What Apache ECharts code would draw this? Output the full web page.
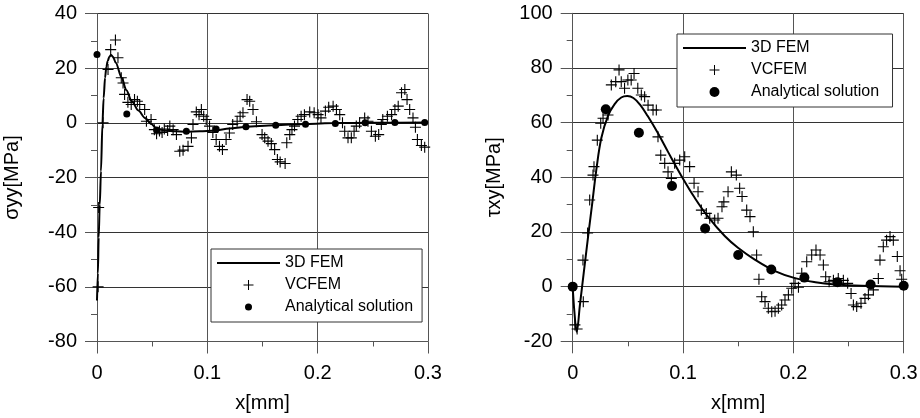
<!DOCTYPE html>
<html><head><meta charset="utf-8">
<script src="https://cdn.jsdelivr.net/npm/echarts@6/dist/echarts.min.js"></script>
<style>html,body{margin:0;padding:0;background:#fff}#c{width:920px;height:418px}</style>
</head><body><div id="c"></div>
<script>
// ---- data ----
const xTicks = [0, 0.1, 0.2, 0.3];
const syyTicks = [-80, -60, -40, -20, 0, 20, 40];
const txyTicks = [-20, 0, 20, 40, 60, 80, 100];
const seriesNames = ['3D FEM', 'VCFEM', 'Analytical solution'];
const axisNames = ['x[mm]', 'σyy[MPa]', 'τxy[MPa]'];

const syyFEM = [[0,-65],[0.0008,-55],[0.0015,-42],[0.0025,-30],[0.0036,-17.7],[0.0049,-0.6],[0.006,9],[0.0073,16.5],[0.0085,20.5],[0.0097,22.6],[0.0112,24.2],[0.0127,24.8],[0.0145,24.2],[0.017,22],[0.0224,16.5],[0.0265,12],[0.0315,7.9],[0.0375,4.5],[0.0435,1.8],[0.049,-0.3],[0.054,-2.1],[0.062,-2.9],[0.0707,-3.1],[0.081,-3.3],[0.093,-3.1],[0.107,-2.8],[0.12,-2.1],[0.134,-1.5],[0.161,-0.9],[0.19,-0.4],[0.215,-0.1],[0.25,0],[0.3,0.1]];

const syyVCFEM = [[0.001,-60],[0.0015,-31],[0.0055,0],[0.010,19.5],[0.0124,26.8],[0.0167,30.3],[0.019,23.8],[0.022,16.5],[0.0236,14.6],[0.025,10.4],[0.028,7.5],[0.031,6.7],[0.034,8.5],[0.0366,7.9],[0.0387,6.7],[0.0432,4.9],[0.0448,0.6],[0.049,1.2],[0.052,-2.5],[0.054,-4],[0.0566,-3],[0.059,-3.5],[0.061,-2.3],[0.064,-2.8],[0.066,-1.2],[0.069,-2.5],[0.072,-4.3],[0.075,-10.4],[0.078,-10],[0.0825,-8.6],[0.0856,-5.5],[0.087,-0.6],[0.090,4],[0.0925,3],[0.0946,4.9],[0.0967,2.4],[0.099,1.2],[0.102,-1.2],[0.105,-3.5],[0.108,-6.1],[0.111,-8.6],[0.1137,-9.8],[0.117,-6.1],[0.12,-3.7],[0.123,-0.6],[0.127,0.6],[0.1297,2.4],[0.1323,3.7],[0.136,8.5],[0.1384,7.9],[0.1414,4.9],[0.1445,0.4],[0.1496,-4.3],[0.152,-5.5],[0.155,-6.7],[0.158,-7.6],[0.161,-9.8],[0.1635,-13.4],[0.166,-14.3],[0.1705,-14.9],[0.172,-7.3],[0.1747,-4.3],[0.1767,-2.5],[0.179,-1.2],[0.182,1.2],[0.185,2.4],[0.188,3],[0.1928,4],[0.1968,3.7],[0.2004,3],[0.203,1.8],[0.207,4.3],[0.21,5.7],[0.214,6.1],[0.217,4.9],[0.22,3],[0.2225,0],[0.2245,-3.1],[0.2275,-5.5],[0.2305,-5.5],[0.233,-3.1],[0.235,-1.2],[0.238,0],[0.2426,1.8],[0.2456,0.6],[0.2487,-3.1],[0.2523,-4.9],[0.2553,-4.3],[0.2577,-0.6],[0.259,1.2],[0.2632,2.4],[0.267,3],[0.27,4.9],[0.273,6.1],[0.276,11],[0.279,12.2],[0.281,8.5],[0.2834,4.9],[0.2864,1.8],[0.2886,-1.6],[0.2904,-6.1],[0.294,-8.3],[0.297,-8.9]];

const syyAnalytical = [[0,25],[0.027,3.2],[0.054,-2.6],[0.081,-3.1],[0.108,-2.3],[0.135,-1.4],[0.162,-0.9],[0.189,-0.5],[0.216,-0.2],[0.243,0],[0.27,0.1],[0.297,0.1]];

const txyFEM = [[0,0],[0.0015,-9],[0.0036,-16.5],[0.0066,-6.5],[0.01,5],[0.014,18.5],[0.018,31.5],[0.0214,42.7],[0.026,54.5],[0.032,62.5],[0.038,66.8],[0.044,69.2],[0.0495,69.7],[0.055,69],[0.061,66.6],[0.068,62.4],[0.0773,56.1],[0.0864,49.3],[0.0984,40.6],[0.1106,32.5],[0.1226,25.6],[0.1378,18.5],[0.1498,14.2],[0.165,9.9],[0.1834,5.7],[0.2015,3.1],[0.22,1.6],[0.238,0.8],[0.262,0.3],[0.3,0]];

const txyVCFEM = [[0.002,-14],[0.004,-15.5],[0.0096,-5.5],[0.0093,9.7],[0.0135,19.6],[0.0154,31.7],[0.0184,40.8],[0.0193,43.9],[0.0223,53.6],[0.0254,59.8],[0.0275,61.6],[0.032,62.8],[0.035,73.8],[0.039,75],[0.042,79.3],[0.044,75],[0.047,72.6],[0.05,75.6],[0.053,75.6],[0.0556,78],[0.059,72.6],[0.0622,70.1],[0.0652,69.5],[0.0683,66.4],[0.0728,64.6],[0.0758,64.6],[0.0773,54.8],[0.0798,48.1],[0.0834,45.1],[0.0864,42],[0.0894,39.6],[0.0924,45.1],[0.097,46.3],[0.1015,47.5],[0.106,43.9],[0.11,37.8],[0.1136,34.7],[0.1166,28],[0.1211,26.8],[0.1242,25],[0.1287,24.4],[0.1317,25],[0.1353,29.2],[0.137,31],[0.1408,34.7],[0.1438,42],[0.1483,40.8],[0.1513,36],[0.1535,33],[0.1577,28],[0.1607,25.6],[0.1637,20.1],[0.1667,11.6],[0.1688,2.7],[0.1713,-3.7],[0.1743,-5.5],[0.1773,-7.9],[0.1804,-9.2],[0.1834,-9],[0.1864,-7.9],[0.1894,-6.7],[0.1924,-4.9],[0.1955,-3],[0.1985,-0.6],[0.2015,1.2],[0.2046,-0.2],[0.2076,4.9],[0.2121,9.1],[0.2166,11.6],[0.2205,13.4],[0.2242,11.6],[0.2272,7.9],[0.2293,3.6],[0.2324,1.8],[0.2363,2.3],[0.2407,3],[0.2453,2.3],[0.2492,1.2],[0.2523,-2.5],[0.2544,-6.7],[0.2574,-7.3],[0.2613,-6.1],[0.2649,-4.3],[0.268,-3],[0.2725,-1.2],[0.277,3],[0.2785,9.7],[0.2815,14.6],[0.2845,17],[0.2876,18.3],[0.2906,17],[0.2942,11],[0.2967,5.8],[0.2982,2.7]];

const txyAnalytical = [[0,0],[0.03,64.9],[0.06,56.3],[0.09,36.8],[0.12,21.3],[0.15,11.6],[0.18,6.3],[0.21,3.3],[0.24,1.6],[0.27,0.8],[0.30,0.3]];

// ---- styling ----
const FONT = '"Liberation Sans", Arial, sans-serif';
const PLUS = 'path://M0,4.5H10V5.5H0Z M4.5,0H5.5V10H4.5Z';
const LINE_ICON = 'path://M0,0L0,0M63,10L63,10M0,4H63V6H0Z';
const SMALL_DOT_ICON = 'path://M0,0L0,0M10,10L10,10M8.5,5A3.5,3.5,0,1,1,1.5,5A3.5,3.5,0,1,1,8.5,5Z';

function xAxisFor(gi) {
  return {
    type: 'value', gridIndex: gi,
    min: xTicks[0], max: xTicks[xTicks.length - 1], interval: xTicks[1] - xTicks[0],
    name: axisNames[0], nameLocation: 'middle', nameGap: 52, nameMoveOverlap: false,
    nameTextStyle: { fontFamily: FONT, fontSize: 20, color: '#000' },
    axisLine: { show: true, onZero: false, lineStyle: { color: '#555', width: 1 } },
    axisTick: { show: true, length: 12, lineStyle: { color: '#555' } },
    minorTick: { show: true, splitNumber: 2, length: 5, lineStyle: { color: '#555' } },
    splitLine: { show: true, lineStyle: { color: '#555', width: 1 } },
    axisLabel: { fontFamily: FONT, fontSize: 20, color: '#000', margin: 22, formatter: v => String(+v.toFixed(2)) }
  };
}
function yAxisFor(gi, ticks, name, gap) {
  return {
    type: 'value', gridIndex: gi,
    min: ticks[0], max: ticks[ticks.length - 1], interval: ticks[1] - ticks[0],
    name: name, nameLocation: 'middle', nameGap: gap, nameMoveOverlap: false,
    nameTextStyle: { fontFamily: FONT, fontSize: 20, color: '#000' },
    axisLine: { show: true, onZero: false, lineStyle: { color: '#555', width: 1 } },
    axisTick: { show: true, length: 12, lineStyle: { color: '#555' } },
    minorTick: { show: true, splitNumber: 2, length: 6, lineStyle: { color: '#555' } },
    splitLine: { show: true, lineStyle: { color: '#333', width: 1 } },
    axisLabel: { fontFamily: FONT, fontSize: 20, color: '#000', margin: 20 }
  };
}
function legendFor(left, top, ids, dotIcon) {
  return {
    orient: 'vertical', left: left, top: top,
    padding: [6, 9, 7, 6], itemGap: 6, itemWidth: 63, itemHeight: 10,
    backgroundColor: '#fff', borderColor: '#333', borderWidth: 1,
    textStyle: { fontFamily: FONT, fontSize: 16, color: '#000', lineHeight: 16 },
    itemStyle: { opacity: 1 },
    data: [
      { name: ids[0], icon: LINE_ICON },
      { name: ids[1], icon: PLUS },
      { name: ids[2], icon: dotIcon }
    ],
    selectedMode: false
  };
}
const L = seriesNames, R = seriesNames.map(n => n + ' ');
const markStyle = { color: '#000', opacity: 1 };

const option = {
  animation: false,
  backgroundColor: '#fff',
  grid: [
    { left: 97, top: 13.5, width: 331, height: 328, outerBoundsMode: 'none', containLabel: false },
    { left: 572.7, top: 13.3, width: 331, height: 328, outerBoundsMode: 'none', containLabel: false }
  ],
  xAxis: [xAxisFor(0), xAxisFor(1)],
  yAxis: [yAxisFor(0, syyTicks, axisNames[1], 75), yAxisFor(1, txyTicks, axisNames[2], 68)],
  legend: [
    legendFor(211, 249, L, SMALL_DOT_ICON),
    legendFor(677, 34, R, 'circle')
  ],
  series: [
    { name: L[1], type: 'scatter', xAxisIndex: 0, yAxisIndex: 0, data: syyVCFEM, symbol: PLUS, symbolSize: 11, itemStyle: markStyle, z: 2 },
    { name: L[0], type: 'line', xAxisIndex: 0, yAxisIndex: 0, data: syyFEM, symbol: 'none', smooth: 0.3, smoothMonotone: 'x', lineStyle: { color: '#000', width: 2, opacity: 1 }, itemStyle: markStyle, z: 3 },
    { name: L[2], type: 'scatter', xAxisIndex: 0, yAxisIndex: 0, data: syyAnalytical, symbol: 'circle', symbolSize: 7, itemStyle: markStyle, z: 4 },
    { name: R[1], type: 'scatter', xAxisIndex: 1, yAxisIndex: 1, data: txyVCFEM, symbol: PLUS, symbolSize: 11, itemStyle: markStyle, z: 2 },
    { name: R[0], type: 'line', xAxisIndex: 1, yAxisIndex: 1, data: txyFEM, symbol: 'none', smooth: 0.4, lineStyle: { color: '#000', width: 2, opacity: 1 }, itemStyle: markStyle, z: 3 },
    { name: R[2], type: 'scatter', xAxisIndex: 1, yAxisIndex: 1, data: txyAnalytical, symbol: 'circle', symbolSize: 10, itemStyle: markStyle, z: 4 }
  ]
};
const chart = echarts.init(document.getElementById('c'), null, { renderer: 'canvas' });
chart.setOption(option);
</script></body></html>
